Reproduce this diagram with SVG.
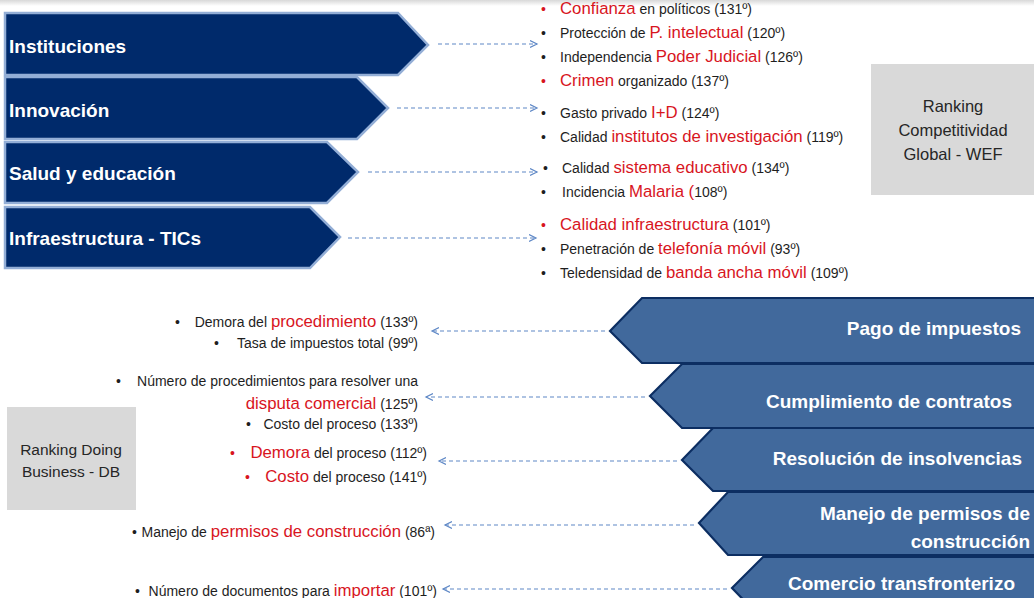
<svg xmlns="http://www.w3.org/2000/svg" width="1034" height="598" viewBox="0 0 1034 598">
<defs>
<linearGradient id="topshade" x1="0" y1="0" x2="0" y2="1">
<stop offset="0" stop-color="#d8d8d8"/>
<stop offset="1" stop-color="#ffffff"/>
</linearGradient>
<marker id="ah" markerUnits="userSpaceOnUse" markerWidth="10" markerHeight="10" refX="7" refY="4" orient="auto">
<path d="M0,0.5 L7,4 L0,7.5" fill="none" stroke="#5F88C6" stroke-width="1.2"/>
</marker>
<style>
.wef{fill:#002A6B;stroke:#93AED6;stroke-width:2.5}
.db{fill:#41699C;stroke:#0C2E62;stroke-width:2.2}
.lbl{font-family:"Liberation Sans",Arial,sans-serif;font-weight:bold;font-size:19px;fill:#ffffff}
.t{font-family:"Liberation Sans",Arial,sans-serif;font-size:14px;fill:#1e1e1e}
.r{font-size:16.8px;fill:#D8151E}
.bl{font-family:"Liberation Sans",Arial,sans-serif;font-size:14px;fill:#1e1e1e}
.rd{fill:#D8151E}
.box{fill:#D9D9D9}
.bt{font-family:"Liberation Sans",Arial,sans-serif;font-size:16.5px;fill:#262626;text-anchor:middle}
.con{stroke:#5F88C6;stroke-width:1.2;stroke-dasharray:4 3;fill:none}
</style>
</defs>
<rect x="0" y="0" width="1034" height="598" fill="#ffffff"/>
<rect x="0" y="0" width="1034" height="6" fill="url(#topshade)"/>

<g id="node-instituciones">
<polygon class="wef" points="5,13 398,13 428,45 398,75 5,75"/>
<text class="lbl" x="9" y="53">Instituciones</text>
</g>
<g id="node-innovacion">
<polygon class="wef" points="5,77 357,77 388,108 357,139 5,139"/>
<text class="lbl" x="9" y="117">Innovación</text>
</g>
<g id="node-salud">
<polygon class="wef" points="5,142 327,142 358,172 327,203 5,203"/>
<text class="lbl" x="9" y="180">Salud y educación</text>
</g>
<g id="node-infra">
<polygon class="wef" points="5,207 310,207 340,237 310,268 5,268"/>
<text class="lbl" x="9" y="245">Infraestructura - TICs</text>
</g>

<g id="node-pago">
<polygon class="db" points="610,331 642,298 1040,298 1040,363 642,363"/>
<text class="lbl" x="1021" y="335" text-anchor="end">Pago de impuestos</text>
</g>
<g id="node-cumplimiento">
<polygon class="db" points="650,396 682,364 1040,364 1040,428 682,428"/>
<text class="lbl" x="1012" y="408" text-anchor="end">Cumplimiento de contratos</text>
</g>
<g id="node-resolucion">
<polygon class="db" points="682,460 713,428 1040,428 1040,491 713,491"/>
<text class="lbl" x="1022" y="465" text-anchor="end">Resolución de insolvencias</text>
</g>
<g id="node-manejo">
<polygon class="db" points="699,523 728,492 1040,492 1040,555 728,555"/>
<text class="lbl" x="1030" y="520" text-anchor="end">Manejo de permisos de</text>
<text class="lbl" x="1030" y="548" text-anchor="end">construcción</text>
</g>
<g id="node-comercio">
<polygon class="db" points="732,588 763,557 1040,557 1040,620 763,620"/>
<text class="lbl" x="1015" y="590" text-anchor="end">Comercio transfronterizo</text>
</g>

<g id="connectors">
<line class="con" x1="438" y1="44" x2="537" y2="44" marker-end="url(#ah)"/>
<line class="con" x1="397" y1="108" x2="537" y2="108" marker-end="url(#ah)"/>
<line class="con" x1="368" y1="172" x2="537" y2="172" marker-end="url(#ah)"/>
<line class="con" x1="348" y1="238" x2="536" y2="238" marker-end="url(#ah)"/>
<line class="con" x1="605" y1="331" x2="432" y2="331" marker-end="url(#ah)"/>
<line class="con" x1="645" y1="397" x2="426" y2="397" marker-end="url(#ah)"/>
<line class="con" x1="677" y1="461" x2="439" y2="461" marker-end="url(#ah)"/>
<line class="con" x1="694" y1="525" x2="445" y2="525" marker-end="url(#ah)"/>
<line class="con" x1="727" y1="589" x2="443" y2="589" marker-end="url(#ah)"/>
</g>

<g id="node-wef-indicators">
<text class="t rd" x="541" y="14">•</text>
<text class="t" x="560" y="14"><tspan class="r">Confianza</tspan> en políticos (131º)</text>
<text class="t" x="541" y="38">•</text>
<text class="t" x="560" y="38">Protección de <tspan class="r">P. intelectual</tspan> (120º)</text>
<text class="t" x="541" y="62">•</text>
<text class="t" x="560" y="62">Independencia <tspan class="r">Poder Judicial</tspan> (126º)</text>
<text class="t rd" x="541" y="86">•</text>
<text class="t" x="560" y="86"><tspan class="r">Crimen</tspan> organizado (137º)</text>
<text class="t" x="541" y="118">•</text>
<text class="t" x="560" y="118">Gasto privado <tspan class="r">I+D</tspan> (124º)</text>
<text class="t" x="541" y="142">•</text>
<text class="t" x="560" y="142">Calidad <tspan class="r">institutos de investigación</tspan> (119º)</text>
<text class="t" x="543" y="173">•</text>
<text class="t" x="562" y="173">Calidad <tspan class="r">sistema educativo</tspan> (134º)</text>
<text class="t" x="541" y="197">•</text>
<text class="t" x="562" y="197">Incidencia <tspan class="r">Malaria (</tspan>108º)</text>
<text class="t rd" x="541" y="230">•</text>
<text class="t" x="560" y="230"><tspan class="r">Calidad infraestructura</tspan> (101º)</text>
<text class="t" x="541" y="254">•</text>
<text class="t" x="560" y="254">Penetración de <tspan class="r">telefonía móvil</tspan> (93º)</text>
<text class="t" x="541" y="278">•</text>
<text class="t" x="560" y="278">Teledensidad de <tspan class="r">banda ancha móvil</tspan> (109º)</text>
</g>

<g id="node-db-indicators">
<text class="bl" x="175" y="327">•</text>
<text class="bl" x="418" y="327" text-anchor="end">Demora del <tspan class="r">procedimiento</tspan> (133º)</text>
<text class="bl" x="214" y="348">•</text>
<text class="bl" x="418" y="348" text-anchor="end">Tasa de impuestos total (99º)</text>
<text class="bl" x="116" y="386">•</text>
<text class="bl" x="418" y="386" text-anchor="end">Número de procedimientos para resolver una</text>
<text class="bl" x="418" y="409" text-anchor="end"><tspan class="r">disputa comercial</tspan> (125º)</text>
<text class="bl" x="246" y="429">•</text>
<text class="bl" x="418" y="429" text-anchor="end">Costo del proceso (133º)</text>
<text class="bl rd" x="230" y="458">•</text>
<text class="bl" x="427" y="458" text-anchor="end"><tspan class="r">Demora</tspan> del proceso (112º)</text>
<text class="bl rd" x="245" y="482">•</text>
<text class="bl" x="427" y="482" text-anchor="end"><tspan class="r">Costo</tspan> del proceso (141º)</text>
<text class="bl" x="132" y="537">•</text>
<text class="bl" x="435" y="537" text-anchor="end">Manejo de <tspan class="r">permisos de construcción</tspan> (86ª)</text>
<text class="bl" x="135" y="596">•</text>
<text class="bl" x="437" y="596" text-anchor="end">Número de documentos para <tspan class="r">importar</tspan> (101º)</text>
</g>

<g id="node-wef-box">
<rect class="box" x="871" y="64" width="165" height="131"/>
<text class="bt" x="953" y="112">Ranking</text>
<text class="bt" x="953" y="136">Competitividad</text>
<text class="bt" x="953" y="160">Global - WEF</text>
</g>
<g id="node-db-box">
<rect class="box" x="7" y="407" width="129" height="103"/>
<text class="bt" x="71" y="455" style="font-size:15.5px">Ranking Doing</text>
<text class="bt" x="71" y="477" style="font-size:15.5px">Business - DB</text>
</g>
</svg>
